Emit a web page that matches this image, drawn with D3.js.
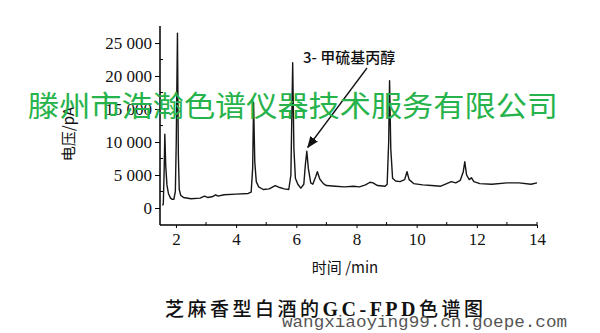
<!DOCTYPE html>
<html>
<head>
<meta charset="utf-8">
<script src="https://cdn.jsdelivr.net/npm/d3@7"></script>
<style>
  body { margin: 0; background: #fff; }
  svg { display: block; }
</style>
</head>
<body>
<svg width="600" height="333"></svg>
<script>
// retention time (min) and detector signal
const times = [
  1.55, 1.58, 1.61, 1.63, 1.66, 1.7, 1.75, 1.82, 1.88, 1.93,
  1.98, 2.01, 2.05, 2.08, 2.11, 2.16, 2.25, 2.5, 2.8, 2.95,
  3.05, 3.2, 3.32, 3.4, 3.6, 4.0, 4.4, 4.5, 4.55, 4.58,
  4.62, 4.67, 4.75, 4.9, 5.1, 5.3, 5.45, 5.6, 5.75, 5.82,
  5.88, 5.92, 5.97, 6.05, 6.15, 6.25, 6.3, 6.35, 6.4, 6.48,
  6.55, 6.65, 6.7, 6.78, 6.9, 7.0, 7.3, 7.6, 7.9, 8.1,
  8.3, 8.45, 8.55, 8.7, 8.95, 9.02, 9.07, 9.1, 9.14, 9.2,
  9.3, 9.45, 9.6, 9.68, 9.75, 9.9, 10.2, 10.5, 10.8, 11.0,
  11.15, 11.3, 11.45, 11.55, 11.6, 11.66, 11.75, 11.82, 11.9, 12.1,
  12.5, 13.0, 13.4, 13.8, 14.0,
];
const signal = [
  400, 600, 6000, 11200, 6500, 3500, 2200, 1500, 1300, 1300,
  2500, 10000, 26500, 8000, 2800, 1900, 1600, 1400, 1500, 1800,
  1600, 1700, 2000, 1800, 2000, 2100, 2200, 2400, 6000, 16000,
  7000, 4000, 3200, 2800, 2900, 3400, 3100, 2900, 2800, 5000,
  22000, 9000, 4500, 3600, 3000, 3600, 6500, 8600, 6000, 3800,
  3600, 4800, 5500, 4400, 3700, 3400, 3300, 3200, 3300, 3200,
  3500, 3900, 3800, 3400, 3300, 3600, 10000, 19300, 9000, 4500,
  4100, 4000, 4300, 5500, 4300, 3700, 3500, 3400, 3300, 3700,
  4000, 3800, 4200, 5500, 7000, 5000, 4300, 4600, 4000, 3700,
  3600, 3800, 3800, 3600, 3800,
];
const yTicks = [0, 5000, 10000, 15000, 20000, 25000];
const yMinorTicks = [2500, 7500, 12500, 17500, 22500];
const xTicks = [2, 4, 6, 8, 10, 12, 14];
const xMinorTicks = [3, 5, 7, 9, 11, 13];
const annotation = { label: "3- 甲硫基丙醇", time: 6.35, value: 8600 };

const svg = d3.select("svg");

const x = d3.scaleLinear().domain([1.47, 14]).range([160, 537]);
const y = d3.scaleLinear().domain([-2576, 27576]).range([225, 26]);

const serif = "'Liberation Serif', 'DejaVu Serif', serif";
const cjk = "'Noto Sans CJK SC', sans-serif";

// y axis
const yAxis = svg.append("g").attr("transform", "translate(160,0)");
yAxis.call(
  d3.axisLeft(y)
    .tickValues(yTicks)
    .tickSize(5)
    .tickPadding(3)
    .tickFormat((d) => d3.format(",")(d).replace(",", " "))
);
yAxis.select(".domain").attr("d", "M0,26V225");
yAxis.selectAll("text").attr("font-family", serif).attr("font-size", 17).attr("fill", "#111");
yAxis
  .selectAll(".minor")
  .data(yMinorTicks)
  .enter()
  .append("line")
  .attr("class", "minor")
  .attr("x1", 0)
  .attr("x2", 3)
  .attr("y1", (d) => y(d))
  .attr("y2", (d) => y(d))
  .attr("stroke", "#000");

// x axis
const xAxis = svg.append("g").attr("transform", "translate(0,225)");
xAxis.call(d3.axisBottom(x).tickValues(xTicks).tickSize(3).tickPadding(5));
xAxis.select(".domain").attr("d", "M160,0H537");
xAxis.selectAll("text").attr("font-family", serif).attr("font-size", 17).attr("fill", "#111");
xAxis
  .selectAll(".minor")
  .data(xMinorTicks.concat([14]))
  .enter()
  .append("line")
  .attr("class", "minor")
  .attr("x1", (d) => x(d))
  .attr("x2", (d) => x(d))
  .attr("y1", 0)
  .attr("y2", -3)
  .attr("stroke", "#000");
svg.selectAll(".domain").attr("stroke-width", 1.5);

// axis titles
svg
  .append("text")
  .attr("transform", "translate(74,134) rotate(-90)")
  .attr("text-anchor", "middle")
  .attr("font-family", cjk)
  .attr("font-size", 15)
  .attr("fill", "#111")
  .text("电压/pA");

svg
  .append("text")
  .attr("x", 345)
  .attr("y", 273)
  .attr("text-anchor", "middle")
  .attr("font-family", cjk)
  .attr("font-size", 15)
  .attr("fill", "#111")
  .text("时间 /min");

// chromatogram trace
const points = times.map((t, i) => [t, signal[i]]);
svg
  .append("path")
  .datum(points)
  .attr("fill", "none")
  .attr("stroke", "#161616")
  .attr("stroke-width", 1.4)
  .attr("stroke-linejoin", "round")
  .attr("d", d3.line().x((d) => x(d[0])).y((d) => y(d[1])));

// annotation arrow
svg
  .append("defs")
  .append("marker")
  .attr("id", "head")
  .attr("viewBox", "0 0 10 10")
  .attr("refX", 9)
  .attr("refY", 5)
  .attr("markerWidth", 9)
  .attr("markerHeight", 9)
  .attr("orient", "auto")
  .append("path")
  .attr("d", "M0,1L10,5L0,9Z")
  .attr("fill", "#111");

svg
  .append("line")
  .attr("x1", 367)
  .attr("y1", 68)
  .attr("x2", x(annotation.time) + 1)
  .attr("y2", y(annotation.value) - 4)
  .attr("stroke", "#111")
  .attr("stroke-width", 1.3)
  .attr("marker-end", "url(#head)");

svg
  .append("text")
  .attr("x", 303)
  .attr("y", 63)
  .attr("font-family", cjk)
  .attr("font-size", 15)
  .attr("font-weight", 500)
  .attr("fill", "#111")
  .text(annotation.label);

// caption
const caption = svg
  .append("text")
  .attr("x", 165)
  .attr("y", 316)
  .attr("textLength", 318)
  .attr("lengthAdjust", "spacing")
  .attr("font-family", cjk)
  .attr("font-size", 19)
  .attr("font-weight", 500)
  .attr("fill", "#111");
caption.append("tspan").text("芝麻香型白酒的");
caption
  .append("tspan")
  .attr("font-family", serif)
  .attr("font-weight", "bold")
  .attr("font-size", 20)
  .text("GC-FPD");
caption.append("tspan").text("色谱图");

// watermarks
svg
  .append("text")
  .attr("x", 28)
  .attr("y", 117)
  .attr("textLength", 530)
  .attr("lengthAdjust", "spacingAndGlyphs")
  .attr("font-family", cjk)
  .attr("font-size", 29)
  .attr("fill", "#27b34b")
  .text("滕州市浩瀚色谱仪器技术服务有限公司");

svg
  .append("text")
  .attr("x", 282)
  .attr("y", 327)
  .attr("textLength", 285)
  .attr("lengthAdjust", "spacingAndGlyphs")
  .attr("font-family", "'Liberation Mono', 'DejaVu Sans Mono', monospace")
  .attr("font-size", 16)
  .attr("fill", "#555")
  .text("wangxiaoying99.cn.goepe.com");
</script>
</body>
</html>
